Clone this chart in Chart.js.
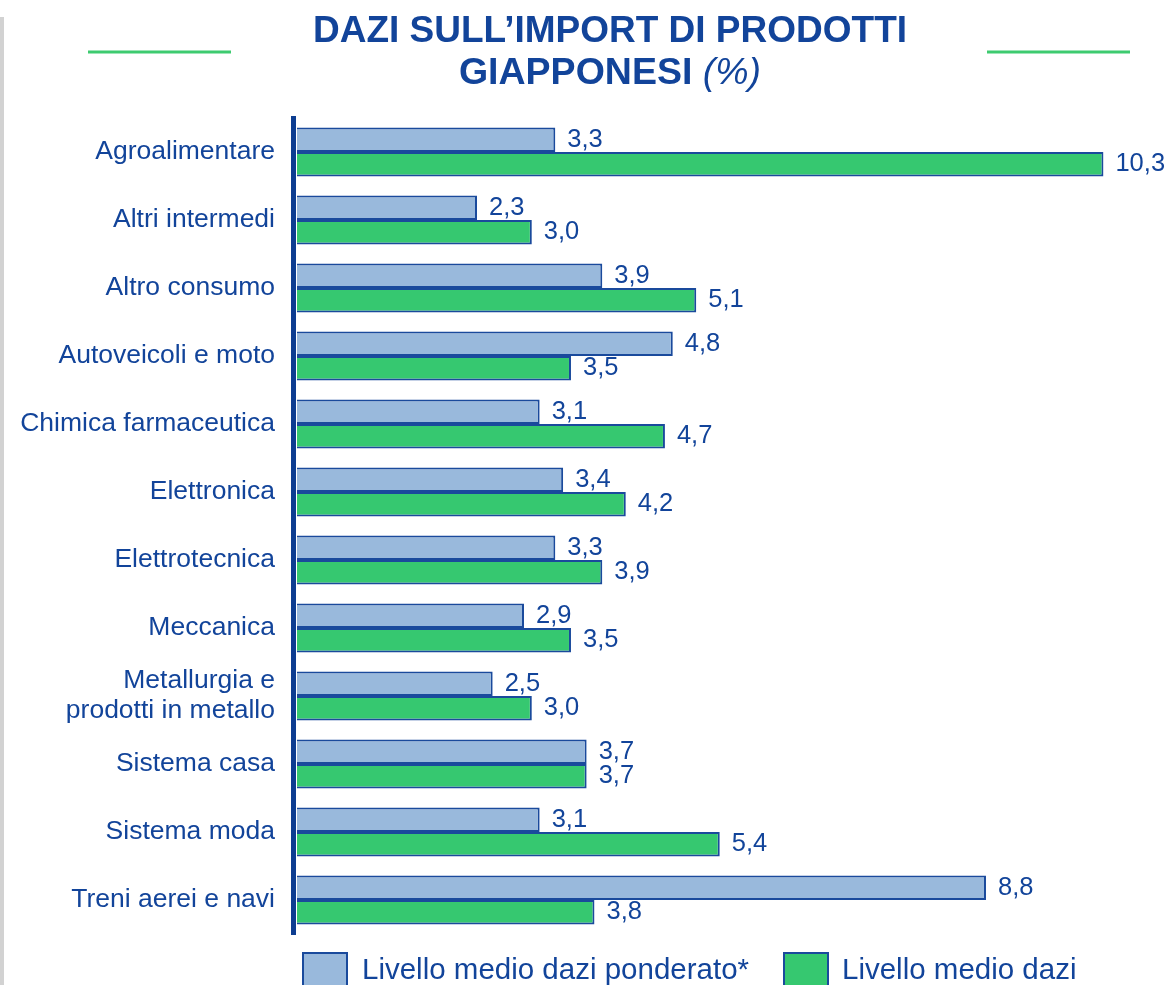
<!DOCTYPE html>
<html>
<head>
<meta charset="utf-8">
<script src="https://cdn.jsdelivr.net/npm/chart.js@4"></script>
<style>
  html, body { margin: 0; padding: 0; background: #fff; }
  #wrap { width: 1170px; height: 985px; position: relative; }
</style>
</head>
<body>
<div id="wrap"><canvas id="myChart"></canvas></div>
<script>
const categories = [
  'Agroalimentare',
  'Altri intermedi',
  'Altro consumo',
  'Autoveicoli e moto',
  'Chimica farmaceutica',
  'Elettronica',
  'Elettrotecnica',
  'Meccanica',
  ['Metallurgia e', 'prodotti in metallo'],
  'Sistema casa',
  'Sistema moda',
  'Treni aerei e navi',
];
const weighted = [3.3, 2.3, 3.9, 4.8, 3.1, 3.4, 3.3, 2.9, 2.5, 3.7, 3.1, 8.8];
const average = [10.3, 3.0, 5.1, 3.5, 4.7, 4.2, 3.9, 3.5, 3.0, 3.7, 5.4, 3.8];
const seriesNames = ['Livello medio dazi ponderato*', 'Livello medio dazi'];

const FONT = '"Liberation Sans", Arial, sans-serif';
const NAVY = '#12449a';
const BORDER = '#1a4a9c';

// title, side lines, value labels and legend
const decor = {
  id: 'decor',
  afterDatasetsDraw(chart) {
    const ctx = chart.ctx;
    ctx.save();
    ctx.font = '25.5px ' + FONT;
    ctx.fillStyle = NAVY;
    ctx.textAlign = 'left';
    ctx.textBaseline = 'middle';
    chart.data.datasets.forEach((ds, i) => {
      chart.getDatasetMeta(i).data.forEach((bar, j) => {
        const txt = ds.data[j].toFixed(1).replace('.', ',');
        ctx.fillText(txt, bar.x + 12, bar.y);
      });
    });
    ctx.restore();
  },
  afterDraw(chart) {
    const ctx = chart.ctx;
    ctx.save();
    // grey edge on the left
    ctx.fillStyle = '#d2d2d2';
    ctx.fillRect(0, 17, 4, 968);
    // green lines beside the title
    ctx.strokeStyle = '#3ecb70';
    ctx.lineWidth = 3;
    ctx.beginPath();
    ctx.moveTo(88, 52); ctx.lineTo(231, 52);
    ctx.moveTo(987, 52); ctx.lineTo(1130, 52);
    ctx.stroke();
    // title
    ctx.fillStyle = NAVY;
    ctx.textBaseline = 'middle';
    ctx.textAlign = 'center';
    ctx.font = 'bold 37px ' + FONT;
    ctx.fillText('DAZI SULL\u2019IMPORT DI PRODOTTI', 610, 32);
    const a = 'GIAPPONESI ', b = '(%)';
    const fa = 'bold 37.5px ' + FONT, fb = 'italic 37.5px ' + FONT;
    ctx.font = fa; const wa = ctx.measureText(a).width;
    ctx.font = fb; const wb = ctx.measureText(b).width;
    const x0 = 610 - (wa + wb) / 2;
    ctx.textAlign = 'left';
    ctx.font = fa; ctx.fillText(a, x0, 74);
    ctx.font = fb; ctx.fillText(b, x0 + wa, 74);
    // legend
    const items = [{x: 302, tx: 362}, {x: 783, tx: 842}];
    ctx.font = '29.5px ' + FONT;
    chart.data.datasets.forEach((ds, i) => {
      const it = items[i];
      ctx.fillStyle = ds.backgroundColor;
      ctx.fillRect(it.x, 952, 46, 34);
      ctx.strokeStyle = BORDER;
      ctx.lineWidth = 2;
      ctx.strokeRect(it.x + 1, 953, 44, 34);
      ctx.fillStyle = NAVY;
      ctx.fillText(ds.label, it.tx, 971);
    });
    ctx.restore();
  }
};

const data = {
  labels: categories,
  datasets: [{
    label: seriesNames[0],
    data: weighted,
    backgroundColor: '#99b9dc',
    borderColor: BORDER,
    borderWidth: 2,
  }, {
    label: seriesNames[1],
    data: average,
    backgroundColor: '#36c870',
    borderColor: BORDER,
    borderWidth: 2,
  }]
};

const config = {
  type: 'bar',
  data: data,
  options: {
    indexAxis: 'y',
    responsive: true,
    maintainAspectRatio: false,
    animation: false,
    events: [],
    layout: { padding: { top: 118, bottom: 51, left: 0, right: 0 } },
    datasets: {
      bar: { categoryPercentage: 0.72, barPercentage: 1.0 }
    },
    plugins: {
      legend: { display: false },
      tooltip: { enabled: false },
      title: { display: false }
    },
    scales: {
      x: {
        display: false,
        min: -0.05,
        max: 11.15
      },
      y: {
        afterFit(scale) { scale.width = 293; },
        grid: { display: false, drawTicks: false },
        border: { display: true, color: '#0d3d91', width: 5 },
        ticks: {
          padding: 18,
          color: NAVY,
          font: { family: FONT, size: 26.5, lineHeight: 1.13 }
        }
      }
    }
  },
  plugins: [decor]
};

const myChart = new Chart(document.getElementById('myChart'), config);
</script>
</body>
</html>
